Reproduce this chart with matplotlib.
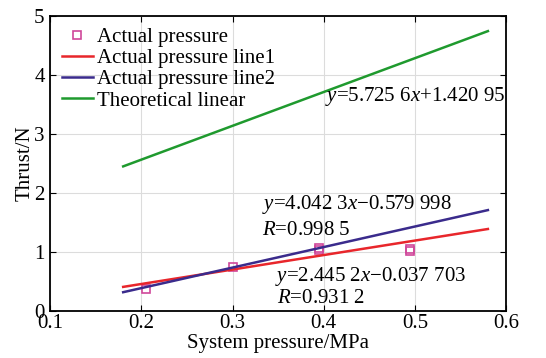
import matplotlib
matplotlib.use('Agg')
import matplotlib.pyplot as plt

plt.rcParams['font.family'] = ['Liberation Serif', 'DejaVu Serif']
plt.rcParams['mathtext.fontset'] = 'custom'
plt.rcParams['mathtext.rm'] = 'Liberation Serif'
plt.rcParams['mathtext.it'] = 'Liberation Serif:italic'

# measured points
px = [0.205, 0.300, 0.395, 0.395, 0.495, 0.495]
py = [0.38, 0.75, 1.07, 1.03, 1.05, 1.02]

# fitted line endpoints
line_x = [0.18, 0.58]
line1_y = [0.41, 1.39]   # red
line2_y = [0.32, 1.71]   # blue
theory_y = [2.45, 4.74]  # green

xticks = [0.1, 0.2, 0.3, 0.4, 0.5, 0.6]
yticks = [0, 1, 2, 3, 4, 5]

fs = 15

fig = plt.figure(figsize=(5.46, 3.58), dpi=100)
ax = fig.add_axes([0.092, 0.131, 0.835, 0.825])

ax.plot(px, py, linestyle='None', marker='s', markersize=6, markerfacecolor='none',
        markeredgecolor='#d0479a', markeredgewidth=1.2, label='Actual pressure')
ax.plot(line_x, line1_y, color='#e8262b', lw=1.8, label='Actual pressure line1')
ax.plot(line_x, line2_y, color='#3a2b8c', lw=1.8, label='Actual pressure line2')
ax.plot(line_x, theory_y, color='#1f9a2e', lw=1.8, label='Theoretical linear')

ax.text(0.401, 3.63, r'$y$=5.725 6$x$+1.420 95', fontsize=fs, va='center')
ax.text(0.332, 1.81, r'$y$=4.042 3$x$−0.579 998', fontsize=fs, va='center')
ax.text(0.332, 1.37, r'$R$=0.998 5', fontsize=fs, va='center')
ax.text(0.347, 0.59, r'$y$=2.445 2$x$−0.037 703', fontsize=fs, va='center')
ax.text(0.349, 0.22, r'$R$=0.931 2', fontsize=fs, va='center')

ax.set_xlim(0.1, 0.6)
ax.set_ylim(0, 5)
ax.set_xticks(xticks)
ax.set_yticks(yticks)
ax.set_xticklabels([str(t) for t in xticks])
ax.tick_params(direction='in', top=True, right=True, labelsize=fs, length=4)
ax.tick_params(axis='x', pad=2)
ax.tick_params(axis='y', pad=4)
ax.grid(color='#dcdcdc', lw=0.8)
for s in ax.spines.values():
    s.set_linewidth(1.3)

ax.set_xlabel('System pressure/MPa', fontsize=fs, labelpad=1)
ax.set_ylabel('Thrust/N', fontsize=fs, labelpad=0)

ax.legend(loc='upper left', frameon=False, fontsize=fs, handlelength=1.5,
          handletextpad=0.2, labelspacing=0.08, borderaxespad=0.15,
          bbox_to_anchor=(0.0, 1.0))

fig.savefig('out.png', dpi=100)
